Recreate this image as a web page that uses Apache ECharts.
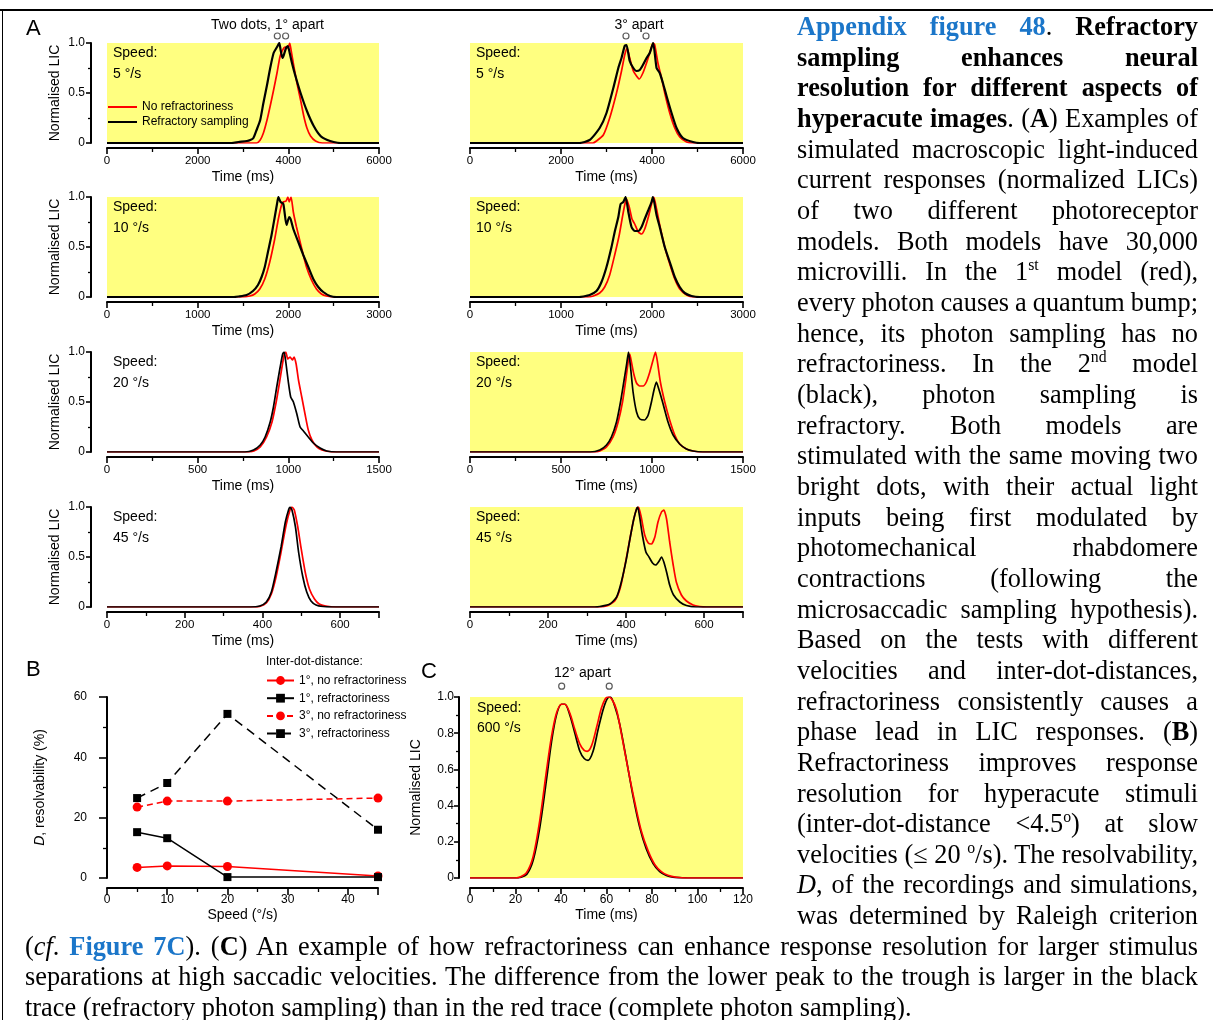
<!DOCTYPE html>
<html>
<head>
<meta charset="utf-8">
<script src="https://cdn.jsdelivr.net/npm/echarts@6.0.0/dist/echarts.min.js"></script>
<style>
  html, body { margin: 0; padding: 0; background: #fff; }
  #wrap { position: relative; width: 1213px; height: 1020px; overflow: hidden; }
  #chart { position: absolute; left: 0; top: 0; width: 1213px; height: 1020px; }
  #caption { position: absolute; left: 0; top: 0; width: 1213px; height: 1020px; pointer-events: none;
             font-family: "Liberation Serif", "Times New Roman", serif; font-size: 26.3px; color: #000; }
  .ln { position: absolute; white-space: nowrap; line-height: 30.66px; }
  .blue { color: #1b76c9; font-weight: bold; }
  sup { font-size: 0.6em; line-height: 0; vertical-align: 0.62em; }
  #frameTop { position: absolute; left: 0; top: 9px; width: 1213px; height: 2px; background: #000; }
  #frameLeft { position: absolute; left: 2px; top: 9px; width: 1px; height: 1011px; background: #000; }
</style>
</head>
<body>
<div id="wrap">
  <div id="chart"></div>
  <div id="caption"></div>
  <div id="frameTop"></div>
  <div id="frameLeft"></div>
</div>
<script>
// ---------- Panel A: normalised LIC traces, [time (ms), value] ----------
// 1 deg apart, 5 deg/s
const red1deg5 = [[0,0],[3300,0],[3380,0.03],[3450,0.1],[3530,0.23],[3600,0.37],[3675,0.53],[3750,0.7],[3820,0.87],[3900,0.95],[3950,0.96],[3990,0.95],[4030,1.0],[4060,0.93],[4120,0.77],[4190,0.6],[4270,0.43],[4340,0.27],[4410,0.15],[4490,0.07],[4600,0.02],[4750,0],[6000,0]];
const black1deg5 = [[0,0],[2750,0],[2900,0.01],[3085,0.02],[3160,0.03],[3230,0.05],[3300,0.13],[3380,0.23],[3450,0.4],[3530,0.58],[3600,0.75],[3675,0.9],[3750,0.96],[3800,1.0],[3830,0.93],[3870,0.85],[3900,0.88],[3950,0.95],[3990,0.97],[4030,0.9],[4080,0.8],[4150,0.68],[4270,0.5],[4410,0.32],[4560,0.17],[4710,0.07],[4860,0.03],[5000,0.01],[5150,0],[6000,0]];
// 3 deg apart, 5 deg/s
const red3deg5 = [[0,0],[2700,0],[2780,0.02],[2930,0.08],[3070,0.25],[3220,0.5],[3330,0.72],[3400,0.88],[3450,0.95],[3510,0.85],[3590,0.72],[3660,0.67],[3720,0.64],[3800,0.7],[3880,0.8],[3950,0.9],[4025,1.0],[4060,0.98],[4130,0.8],[4210,0.65],[4280,0.5],[4390,0.3],[4500,0.15],[4610,0.06],[4760,0.01],[4900,0],[6000,0]];
const black3deg5 = [[0,0],[2400,0],[2630,0.03],[2850,0.15],[3000,0.3],[3150,0.55],[3260,0.75],[3330,0.85],[3400,0.97],[3440,0.98],[3510,0.82],[3590,0.75],[3660,0.72],[3730,0.73],[3800,0.78],[3880,0.85],[3950,0.9],[4025,1.0],[4100,0.75],[4170,0.7],[4240,0.6],[4320,0.47],[4430,0.3],[4540,0.15],[4680,0.05],[4900,0.01],[5050,0],[6000,0]];
// 1 deg apart, 10 deg/s
const red1deg10 = [[0,0],[1500,0],[1575,0.01],[1630,0.03],[1685,0.08],[1740,0.18],[1795,0.35],[1850,0.58],[1890,0.78],[1925,0.92],[1945,0.95],[1975,0.96],[1995,1.0],[2010,0.95],[2030,1.0],[2055,0.85],[2090,0.7],[2130,0.55],[2165,0.42],[2200,0.3],[2255,0.17],[2310,0.08],[2365,0.03],[2420,0.01],[2500,0],[3000,0]];
const black1deg10 = [[0,0],[1400,0],[1450,0.005],[1540,0.02],[1610,0.06],[1665,0.12],[1705,0.2],[1740,0.3],[1775,0.45],[1815,0.62],[1850,0.8],[1875,0.93],[1890,1.0],[1915,0.95],[1945,0.93],[1980,0.72],[2010,0.8],[2025,0.78],[2055,0.68],[2110,0.55],[2165,0.42],[2220,0.3],[2275,0.18],[2330,0.1],[2385,0.05],[2460,0.01],[2530,0],[3000,0]];
// 3 deg apart, 10 deg/s
const red3deg10 = [[0,0],[1300,0],[1355,0.01],[1425,0.04],[1480,0.1],[1535,0.22],[1590,0.42],[1640,0.62],[1675,0.8],[1700,0.92],[1720,0.98],[1750,0.9],[1780,0.78],[1810,0.73],[1850,0.65],[1885,0.63],[1920,0.68],[1960,0.8],[1995,0.93],[2020,1.0],[2050,0.88],[2085,0.72],[2140,0.5],[2195,0.33],[2250,0.18],[2305,0.08],[2380,0.02],[2450,0],[3000,0]];
const black3deg10 = [[0,0],[1200,0],[1245,0.005],[1315,0.02],[1390,0.06],[1445,0.15],[1500,0.3],[1555,0.5],[1590,0.65],[1630,0.8],[1655,0.93],[1685,0.95],[1710,1.0],[1740,0.85],[1775,0.7],[1810,0.66],[1850,0.66],[1885,0.7],[1920,0.78],[1960,0.87],[1995,0.95],[2010,1.0],[2050,0.82],[2085,0.7],[2140,0.5],[2195,0.35],[2250,0.2],[2305,0.1],[2360,0.04],[2435,0.01],[2525,0],[3000,0]];
// 1 deg apart, 20 deg/s
const red1deg20 = [[0,0],[780,0],[810,0.01],[845,0.05],[880,0.15],[910,0.3],[933,0.5],[950,0.68],[965,0.85],[978,0.98],[986,1.0],[997,0.93],[1010,0.95],[1022,0.92],[1032,0.95],[1043,0.88],[1056,0.72],[1074,0.55],[1092,0.38],[1110,0.22],[1130,0.12],[1157,0.05],[1185,0.02],[1220,0.005],[1260,0],[1500,0]];
const black1deg20 = [[0,0],[760,0],[808,0.02],[845,0.07],[872,0.15],[900,0.3],[918,0.45],[936,0.65],[955,0.85],[969,0.98],[977,1.0],[986,0.9],[1000,0.7],[1013,0.55],[1028,0.5],[1047,0.38],[1065,0.25],[1083,0.21],[1110,0.15],[1138,0.09],[1175,0.04],[1212,0.01],[1265,0],[1500,0]];
// 3 deg apart, 20 deg/s
const red3deg20 = [[0,0],[690,0],[713,0.01],[750,0.05],[786,0.15],[814,0.3],[838,0.5],[856,0.72],[869,0.9],[878,0.98],[887,0.9],[900,0.78],[915,0.69],[933,0.66],[951,0.66],[969,0.7],[988,0.8],[1006,0.92],[1019,1.0],[1030,0.9],[1046,0.7],[1070,0.5],[1097,0.32],[1125,0.17],[1152,0.08],[1189,0.03],[1225,0.01],[1265,0],[1500,0]];
const black3deg20 = [[0,0],[660,0],[713,0.02],[750,0.07],[777,0.15],[805,0.3],[827,0.5],[845,0.7],[860,0.87],[871,1.0],[882,0.85],[896,0.6],[915,0.4],[933,0.33],[960,0.32],[979,0.37],[997,0.5],[1011,0.62],[1024,0.7],[1039,0.62],[1061,0.48],[1088,0.3],[1116,0.17],[1152,0.08],[1189,0.03],[1225,0.01],[1280,0],[1500,0]];
// 1 deg apart, 45 deg/s
const red1deg45 = [[0,0],[380,0],[393,0.005],[410,0.04],[423,0.13],[435,0.3],[448,0.55],[461,0.82],[471,0.97],[476,1.0],[482,0.97],[491,0.8],[499,0.6],[510,0.35],[521,0.18],[534,0.08],[546,0.03],[563,0.01],[589,0],[700,0]];
const black1deg45 = [[0,0],[370,0],[393,0.01],[410,0.05],[423,0.15],[435,0.35],[448,0.6],[459,0.85],[468,0.98],[471,1.0],[476,0.97],[485,0.8],[493,0.55],[504,0.3],[514,0.15],[525,0.06],[538,0.02],[555,0.005],[580,0],[700,0]];
// 3 deg apart, 45 deg/s
const red3deg45 = [[0,0],[330,0],[350,0.01],[371,0.06],[386,0.2],[399,0.45],[410,0.68],[420,0.88],[428,0.99],[432,1.0],[439,0.9],[448,0.72],[457,0.64],[465,0.63],[474,0.7],[482,0.85],[491,0.95],[497,0.97],[504,0.88],[512,0.65],[521,0.42],[529,0.25],[542,0.12],[555,0.06],[572,0.02],[589,0.005],[606,0],[700,0]];
const black3deg45 = [[0,0],[320,0],[333,0.005],[359,0.03],[376,0.1],[388,0.25],[401,0.48],[411,0.7],[420,0.88],[427,0.98],[430,1.0],[435,0.9],[442,0.72],[451,0.55],[459,0.5],[468,0.44],[476,0.42],[485,0.46],[491,0.5],[497,0.45],[504,0.35],[512,0.22],[522,0.12],[538,0.05],[555,0.015],[580,0],[700,0]];

// ---------- Panel C: 12 deg apart, 600 deg/s ----------
const red12deg600 = [[0,0],[20,0],[22,0.005],[24.9,0.03],[27.8,0.12],[30.7,0.32],[33.7,0.6],[35.8,0.78],[38,0.91],[40.2,0.96],[41.7,0.96],[43.9,0.91],[46.1,0.82],[48.3,0.74],[50.2,0.705],[51.5,0.7],[53.4,0.73],[55.6,0.83],[57.8,0.94],[59.5,0.99],[60.7,1.0],[62.2,0.99],[64.4,0.93],[66.5,0.8],[69.5,0.6],[72.4,0.42],[75.3,0.26],[78.3,0.15],[81.2,0.075],[84.1,0.035],[87,0.015],[90.7,0.004],[95,0],[120,0]];
const black12deg600 = [[0,0],[20,0],[22,0.003],[24.9,0.02],[27.8,0.1],[30.7,0.28],[33.7,0.55],[35.8,0.75],[38,0.9],[40.2,0.96],[41.7,0.96],[43.9,0.9],[46.1,0.8],[48.3,0.7],[50.2,0.66],[51.9,0.65],[54.1,0.7],[56.3,0.82],[58.5,0.93],[60.3,0.99],[61.7,1.0],[63.6,0.95],[65.8,0.85],[68.8,0.65],[71.7,0.45],[74.6,0.28],[77.5,0.16],[80.5,0.08],[83.4,0.035],[86.3,0.014],[89.2,0.005],[93.6,0.001],[98,0],[120,0]];

// ---------- Panel B: resolvability D (%) vs speed ----------
const speedsB = [5, 10, 20, 45];
const d1NoRefr = [3.5, 4.0, 3.8, 0.7];
const d1Refr = [15.2, 13.2, 0.3, 0.3];
const d3NoRefr = [23.5, 25.5, 25.5, 26.5];
const d3Refr = [26.5, 31.5, 54.4, 16.0];

// ---------- axis settings for panel A rows ----------
const speedsA = [5, 10, 20, 45];
const timeMax = [6000, 3000, 1500, 700];
const timeStep = [2000, 1000, 500, 200];
// dot positions drawn above the traces (time, ms)
const dots1deg = [3757, 3940];
const dots3deg = [3428, 3868];
const dots12deg = [40.3, 61.2];

const FONT = '"Liberation Sans", Arial, Helvetica, sans-serif';
const YELLOW = '#ffff80';
const RED = '#ff0000';
const BLACK = '#000000';

const rowTops = [43, 197, 352, 507];
const colLefts = [107, 470];
const colWidths = [272, 273];
const yellowBg = [[true, true], [true, true], [false, true], [false, true]];
const tracesA = [
  [[red1deg5, black1deg5], [red3deg5, black3deg5]],
  [[red1deg10, black1deg10], [red3deg10, black3deg10]],
  [[red1deg20, black1deg20], [red3deg20, black3deg20]],
  [[red1deg45, black1deg45], [red3deg45, black3deg45]]
];

const plainNumber = v => String(v);

function lineAxis(extra) {
  const base = {
    type: 'value',
    axisLine: { show: true, onZero: false, lineStyle: { color: '#000', width: 2 } },
    axisTick: { show: true, length: 6, lineStyle: { color: '#000', width: 1.6 } },
    minorTick: { show: true, splitNumber: 2, length: 4, lineStyle: { color: '#000', width: 1.3 } },
    splitLine: { show: false },
    minorSplitLine: { show: false },
    axisLabel: { color: '#000', fontFamily: FONT, fontSize: 12, formatter: plainNumber },
    nameLocation: 'middle',
    nameTextStyle: { color: '#000', fontFamily: FONT, fontSize: 14 }
  };
  const out = Object.assign({}, base, extra);
  ['axisLine', 'axisTick', 'minorTick', 'axisLabel', 'nameTextStyle'].forEach(k => {
    if (extra[k]) out[k] = Object.assign({}, base[k], extra[k]);
  });
  return out;
}

function txt(x, y, text, size, extra) {
  return {
    type: 'text', x: x, y: y, silent: true,
    style: Object.assign({
      text: text, fill: '#000', fontFamily: FONT, fontSize: size,
      align: 'left', textAlign: 'left', verticalAlign: 'middle', textVerticalAlign: 'middle'
    }, extra || {})
  };
}

const option = {
  animation: false,
  backgroundColor: '#ffffff',
  grid: [], xAxis: [], yAxis: [], series: [], legend: [], graphic: []
};

// ---------- Panel A: 4 speeds x 2 dot separations ----------
for (let r = 0; r < 4; r++) {
  for (let c = 0; c < 2; c++) {
    const gi = r * 2 + c;
    option.grid.push({
      left: colLefts[c], top: rowTops[r], width: colWidths[c], height: 100,
      show: true, borderWidth: 0,
      backgroundColor: yellowBg[r][c] ? YELLOW : 'rgba(0,0,0,0)'
    });
    option.xAxis.push(lineAxis({
      gridIndex: gi, min: 0, max: timeMax[r], interval: timeStep[r], offset: 5,
      axisLabel: { fontSize: 11.5, margin: 7, showMaxLabel: timeMax[r] % timeStep[r] === 0 },
      name: 'Time (ms)', nameGap: 22
    }));
    option.yAxis.push(lineAxis({
      gridIndex: gi, min: 0, max: 1, interval: 0.5, offset: 16, show: c === 0,
      axisTick: { length: 5 }, minorTick: { length: 3 },
      axisLabel: { fontSize: 12, margin: 6, formatter: v => v === 0 ? '0' : v.toFixed(1) },
      name: 'Normalised LIC', nameGap: 29
    }));
    const thick = r < 2 ? 2.2 : 1.7;
    option.series.push({
      type: 'line', name: 'No refractoriness', xAxisIndex: gi, yAxisIndex: gi,
      data: tracesA[r][c][0], showSymbol: false, symbol: 'none', smooth: 0.2,
      color: RED, lineStyle: { color: RED, width: 1.7 }, z: 3
    });
    option.series.push({
      type: 'line', name: 'Refractory sampling', xAxisIndex: gi, yAxisIndex: gi,
      data: tracesA[r][c][1], showSymbol: false, symbol: 'none', smooth: 0.2,
      color: BLACK, lineStyle: { color: BLACK, width: thick }, z: 4
    });
    option.graphic.push(txt(colLefts[c] + 6, rowTops[r] + 10, 'Speed:', 14));
    option.graphic.push(txt(colLefts[c] + 6, rowTops[r] + 31, speedsA[r] + ' °/s', 14));
  }
}

// dots marking the stimulus positions above the first row and panel C
function dotSeries(gi, xs, yv) {
  return {
    type: 'scatter', xAxisIndex: gi, yAxisIndex: gi, clip: false, silent: true,
    data: xs.map(x => [x, yv]), symbol: 'circle', symbolSize: 6,
    itemStyle: { color: '#ffffff', borderColor: '#333', borderWidth: 1.2 }, z: 5
  };
}
option.series.push(dotSeries(0, dots1deg, 1.07));
option.series.push(dotSeries(1, dots3deg, 1.07));

// ---------- Panel B ----------
option.grid.push({ left: 107, top: 697, width: 271, height: 181, show: false });
option.xAxis.push(lineAxis({
  gridIndex: 8, min: 0, max: 45, interval: 10, offset: 10,
  axisTick: { length: 7 }, minorTick: { length: 4 },
  axisLabel: { fontSize: 12, margin: 6, showMaxLabel: false },
  name: 'Speed (°/s)', nameGap: 20
}));
option.yAxis.push(lineAxis({
  gridIndex: 8, min: 0, max: 60, interval: 20,
  axisTick: { length: 8 }, minorTick: { length: 4 },
  axisLabel: { fontSize: 12, margin: 20 },
  name: '{i|D}, resolvability (%)', nameGap: 60,
  nameTextStyle: { rich: { i: { fontStyle: 'italic', fontFamily: FONT, fontSize: 14, color: '#000' } } }
}));
const bSeries = [
  { name: '1°, no refractoriness', data: d1NoRefr, color: RED, symbol: 'circle', size: 9, dash: 'solid' },
  { name: '1°, refractoriness', data: d1Refr, color: BLACK, symbol: 'rect', size: 8, dash: 'solid' },
  { name: '3°, no refractoriness', data: d3NoRefr, color: RED, symbol: 'circle', size: 9, dash: [6, 4] },
  { name: '3°, refractoriness', data: d3Refr, color: BLACK, symbol: 'rect', size: 8, dash: [9, 6] }
];
bSeries.forEach(s => {
  option.series.push({
    type: 'line', name: s.name, xAxisIndex: 8, yAxisIndex: 8,
    data: speedsB.map((x, i) => [x, s.data[i]]),
    symbol: s.symbol, symbolSize: s.size, showSymbol: true,
    color: s.color, itemStyle: { color: s.color },
    lineStyle: { color: s.color, width: 1.5, type: s.dash }, z: 3
  });
});

// ---------- Panel C ----------
option.grid.push({ left: 470, top: 697, width: 273, height: 181, show: true, borderWidth: 0, backgroundColor: YELLOW });
option.xAxis.push(lineAxis({
  gridIndex: 9, min: 0, max: 120, interval: 20, offset: 10,
  axisLabel: { fontSize: 12, margin: 6 },
  name: 'Time (ms)', nameGap: 20
}));
option.yAxis.push(lineAxis({
  gridIndex: 9, min: 0, max: 1, interval: 0.2, offset: 11,
  axisTick: { length: 5 }, minorTick: { length: 3 },
  axisLabel: { fontSize: 12, margin: 5, formatter: v => v === 0 ? '0' : v.toFixed(1) },
  name: 'Normalised LIC', nameGap: 36
}));
option.series.push({
  type: 'line', name: 'Refractory sampling', xAxisIndex: 9, yAxisIndex: 9,
  data: black12deg600, showSymbol: false, symbol: 'none', smooth: 0.3,
  color: BLACK, lineStyle: { color: BLACK, width: 1.7 }, z: 3
});
option.series.push({
  type: 'line', name: 'No refractoriness', xAxisIndex: 9, yAxisIndex: 9,
  data: red12deg600, showSymbol: false, symbol: 'none', smooth: 0.3,
  color: RED, lineStyle: { color: RED, width: 1.7 }, z: 4
});
option.series.push(dotSeries(9, dots12deg, 1.06));

// ---------- legends ----------
option.legend.push({
  data: ['No refractoriness', 'Refractory sampling'],
  orient: 'vertical', left: 108, top: 100, padding: 0, icon: 'rect',
  itemWidth: 29, itemHeight: 2, itemGap: 1, selectedMode: false,
  textStyle: { color: '#000', fontFamily: FONT, fontSize: 12, lineHeight: 14 }
});
option.legend.push({
  data: bSeries.map(s => s.name),
  orient: 'vertical', left: 266, top: 674.5, padding: 0,
  itemWidth: 27, itemHeight: 11, itemGap: 5.7, selectedMode: false,
  textStyle: { color: '#000', fontFamily: FONT, fontSize: 12, lineHeight: 12 }
});

// ---------- titles and panel letters ----------
const centered = { align: 'center', textAlign: 'center' };
option.graphic.push(txt(267.5, 25, 'Two dots, 1° apart', 14, centered));
option.graphic.push(txt(639, 25, '3° apart', 14, centered));
option.graphic.push(txt(582.5, 673, '12° apart', 14, centered));
option.graphic.push(txt(477, 708, 'Speed:', 14));
option.graphic.push(txt(477, 728, '600 °/s', 14));
option.graphic.push(txt(266, 662, 'Inter-dot-distance:', 12));
option.graphic.push(txt(26, 29, 'A', 22));
option.graphic.push(txt(26, 670, 'B', 22));
option.graphic.push(txt(421, 672, 'C', 22));

const chart = echarts.init(document.getElementById('chart'), null, { renderer: 'canvas', width: 1213, height: 1020 });
chart.setOption(option);

// ---------- figure legend text ----------
const captionRight = [
  '<span class="blue">Appendix figure 48</span>. <b>Refractory</b>',
  '<b>sampling enhances neural</b>',
  '<b>resolution for different aspects of</b>',
  '<b>hyperacute images</b>. (<b>A</b>) Examples of',
  'simulated macroscopic light-induced',
  'current responses (normalized LICs)',
  'of two different photoreceptor',
  'models. Both models have 30,000',
  'microvilli. In the 1<sup>st</sup> model (red),',
  'every photon causes a quantum bump;',
  'hence, its photon sampling has no',
  'refractoriness. In the 2<sup>nd</sup> model',
  '(black), photon sampling is',
  'refractory. Both models are',
  'stimulated with the same moving two',
  'bright dots, with their actual light',
  'inputs being first modulated by',
  'photomechanical rhabdomere',
  'contractions (following the',
  'microsaccadic sampling hypothesis).',
  'Based on the tests with different',
  'velocities and inter-dot-distances,',
  'refractoriness consistently causes a',
  'phase lead in LIC responses. (<b>B</b>)',
  'Refractoriness improves response',
  'resolution for hyperacute stimuli',
  '(inter-dot-distance &lt;4.5<sup>o</sup>) at slow',
  'velocities (≤ 20 <sup>o</sup>/s). The resolvability,',
  '<i>D</i>, of the recordings and simulations,',
  'was determined by Raleigh criterion'
];
const captionBottom = [
  '(<i>cf</i>. <span class="blue">Figure 7C</span>). (<b>C</b>) An example of how refractoriness can enhance response resolution for larger stimulus',
  'separations at high saccadic velocities. The difference from the lower peak to the trough is larger in the black',
  'trace (refractory photon sampling) than in the red trace (complete photon sampling).'
];

const cap = document.getElementById('caption');
const LINE = 30.66, FIRST_TOP = 12;
function placeLine(html, left, top, width, justify) {
  const d = document.createElement('div');
  d.className = 'ln';
  d.style.left = left + 'px';
  d.style.top = top + 'px';
  d.innerHTML = html;
  cap.appendChild(d);
  if (justify) {
    const w = d.getBoundingClientRect().width;
    const n = (d.textContent.match(/ /g) || []).length;
    if (n) d.style.wordSpacing = ((width - w) / n) + 'px';
  }
}
captionRight.forEach((h, i) => placeLine(h, 797, FIRST_TOP + i * LINE, 401, true));
captionBottom.forEach((h, i) => placeLine(h, 25, FIRST_TOP + (30 + i) * LINE, 1173, i < 2));
</script>
</body>
</html>
